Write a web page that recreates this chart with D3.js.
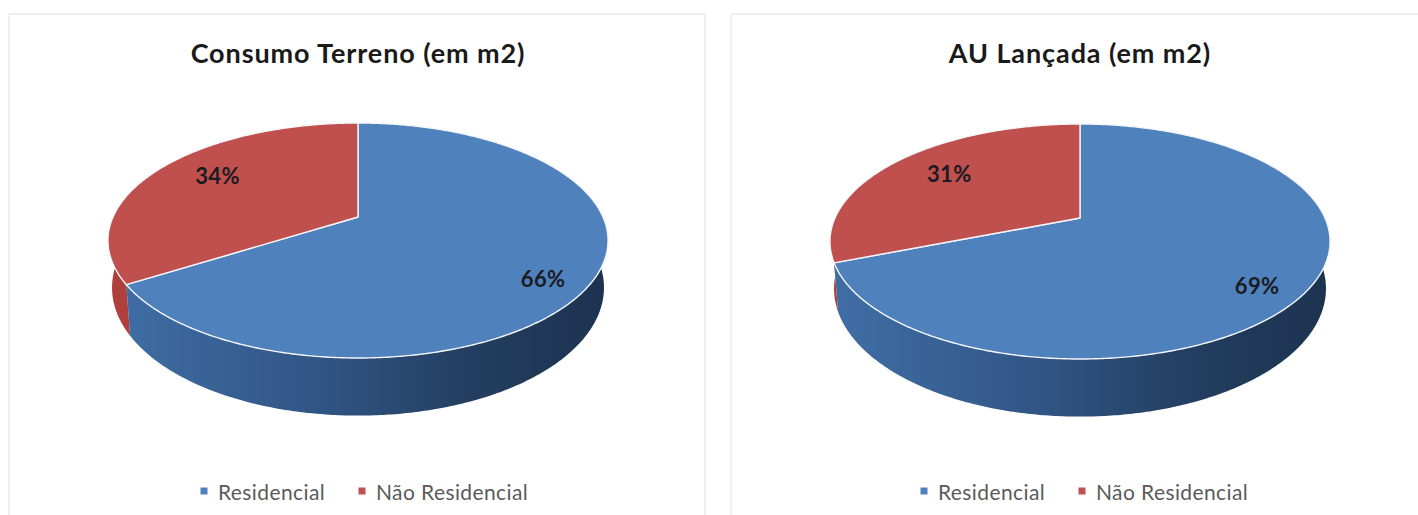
<!DOCTYPE html>
<html lang="pt">
<head>
<meta charset="utf-8">
<title>Consumo Terreno e AU Lançada</title>
<script src="https://cdn.jsdelivr.net/npm/d3@7"></script>
<style>
  html, body { margin: 0; padding: 0; background: #fff; }
  svg { display: block; }
  text { font-family: Lato, "Open Sans", sans-serif; }
</style>
</head>
<body>
<svg id="chart" width="1418" height="515"></svg>
<script>
// Chart content
const categories = ["Residencial", "Não Residencial"];
const chartTitles = ["Consumo Terreno (em m2)", "AU Lançada (em m2)"];
const consumoTerreno = [66, 34];
const auLancada = [69, 31];

const topColors = ["#4f81bd", "#c0504d"];
const sideStops = [
  [["0%", "#3f6da3"], ["45%", "#2f5281"], ["70%", "#243f61"], ["100%", "#1c3250"]],
  [["0%", "#b03e3c"], ["100%", "#8c302e"]]
];

// Layout of each card, the tilted disc and its legend
const panels = [
  { x: 9, w: 696, cx: 358, apexY: 217, title: chartTitles[0], values: consumoTerreno,
    legend: [204, 362], nudges: [[-1, 14], [19, -1]] },
  { x: 731, w: 700, cx: 1080, apexY: 218, title: chartTitles[1], values: auLancada,
    legend: [924, 1082], nudges: [[-1, 12], [18, 2]] }
];
const tilt = -0.2;                                 // perspective foreshortening of the disc
const upper = { b: 245, a: 112.8, dy: 0 };         // top face
const lower = { b: 241, a: 122.9, dy: 45 };        // bottom face of the extrusion

const svg = d3.select("#chart");
const defs = svg.append("defs");
const pie = d3.pie().sort(null).value(d => d);
const outline = d3.line().curve(d3.curveLinearClosed);

// Project a point of the unit disc (angle clockwise from 12 o'clock, radius r) on screen
function project(p, face, angle, r = 1) {
  const u = Math.sin(angle) * r;
  const v = -Math.cos(angle) * r;
  const w = 1 + tilt * v;
  return [p.cx + face.b * u / w, p.apexY + face.dy + face.a * v / w];
}

function rim(p, face, a0, a1) {
  const n = Math.max(2, Math.ceil(Math.abs(a1 - a0) / 0.01));
  return d3.range(n + 1).map(i => project(p, face, a0 + (a1 - a0) * i / n));
}

panels.forEach((p, pi) => {
  const g = svg.append("g");

  // Card
  g.append("rect")
    .attr("x", p.x).attr("y", 14)
    .attr("width", p.w).attr("height", 520)
    .attr("fill", "#fff").attr("stroke", "#ececec").attr("stroke-width", 1.5);

  // Title
  g.append("text")
    .attr("x", p.cx).attr("y", 63)
    .attr("text-anchor", "middle")
    .attr("font-size", 27).attr("font-weight", 700)
    .attr("letter-spacing", 0.9)
    .attr("fill", "#1a1a1a")
    .text(p.title);

  const arcs = pie(p.values);

  // Side wall gradients
  sideStops.forEach((stops, si) => {
    const grad = defs.append("linearGradient")
      .attr("id", `side-${pi}-${si}`)
      .attr("gradientUnits", "userSpaceOnUse")
      .attr("x1", p.cx - 235).attr("x2", p.cx + 250)
      .attr("y1", 0).attr("y2", 0);
    stops.forEach(s => grad.append("stop").attr("offset", s[0]).attr("stop-color", s[1]));
  });

  // Side walls, then the top face over them
  arcs.slice().reverse().forEach(d => {
    const i = d.index;
    const wall = rim(p, upper, d.startAngle, d.endAngle)
      .concat(rim(p, lower, d.endAngle, d.startAngle));
    g.append("path").attr("d", outline(wall)).attr("fill", `url(#side-${pi}-${i})`);
  });

  arcs.forEach((d, i) => {
    const face = [project(p, upper, 0, 0)].concat(rim(p, upper, d.startAngle, d.endAngle));
    g.append("path")
      .attr("d", outline(face))
      .attr("fill", topColors[i])
      .attr("stroke", "#f4f6fa").attr("stroke-width", 1.4).attr("stroke-linejoin", "round");
  });

  // Percentage labels
  arcs.forEach((d, i) => {
    const [lx, ly] = project(p, upper, (d.startAngle + d.endAngle) / 2, 0.8);
    g.append("text")
      .attr("x", lx + p.nudges[i][0]).attr("y", ly + p.nudges[i][1])
      .attr("text-anchor", "middle").attr("dominant-baseline", "central")
      .attr("font-size", 22).attr("font-weight", 700)
      .attr("letter-spacing", 0.4)
      .attr("fill", "#1b1b22")
      .text(`${d.data}%`);
  });

  // Legend
  categories.forEach((c, i) => {
    g.append("rect")
      .attr("x", p.legend[i] - 3.5).attr("y", 487.5)
      .attr("width", 7).attr("height", 7)
      .attr("fill", topColors[i]);
    g.append("text")
      .attr("x", p.legend[i] + 14).attr("y", 491)
      .attr("dominant-baseline", "central")
      .attr("font-size", 21)
      .attr("letter-spacing", 0.4)
      .attr("fill", "#5a5a5a")
      .text(c);
  });
});
</script>
</body>
</html>
